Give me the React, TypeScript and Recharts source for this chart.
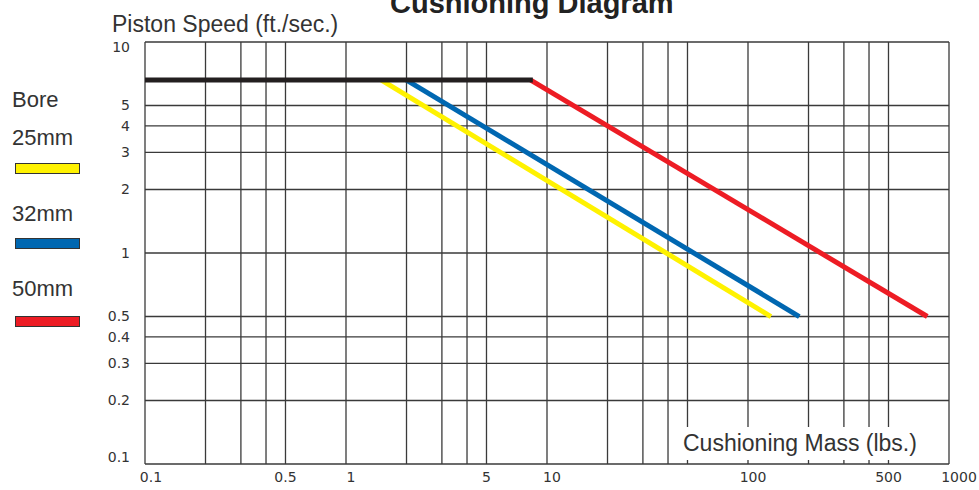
import React from "react";
import { ComposedChart, Line, XAxis, YAxis, ReferenceLine } from "recharts";

// ---- data ----
const xTicks = [0.1, 0.5, 1, 5, 10, 100, 500, 1000];
const yTicks = [0.1, 0.2, 0.3, 0.4, 0.5, 1, 2, 3, 4, 5, 10];
const xGrid = [0.1, 0.2, 0.3, 0.4, 0.5, 1, 2, 3, 4, 5, 10, 20, 30, 40, 50, 100, 200, 300, 400, 500, 1000];
const yGrid = [0.1, 0.2, 0.3, 0.4, 0.5, 1, 2, 3, 4, 5, 10];

const maxSpeed = [
  { x: 0.1, y: 6.6 },
  { x: 8.5, y: 6.6 },
];
const bore25 = [
  { x: 1.5, y: 6.6 },
  { x: 130, y: 0.5 },
];
const bore32 = [
  { x: 2, y: 6.6 },
  { x: 180, y: 0.5 },
];
const bore50 = [
  { x: 8.3, y: 6.6 },
  { x: 780, y: 0.5 },
];

const legendItems = [
  { label: "25mm", color: "#FFF200" },
  { label: "32mm", color: "#0067B1" },
  { label: "50mm", color: "#ED1C24" },
];

const GRID = "#3a3a3a";
const TXT = "#333";

const YTick = (props: any) => {
  const { x, y, payload } = props;
  const v = payload.value;
  const adj = v === 10 ? 5 : v === 0.1 ? -7 : 0;
  return (
    <text x={x} y={y + adj} dy="0.355em" textAnchor="end" fontFamily="DejaVu Sans" fontSize={14} fill={TXT}>
      {String(v)}
    </text>
  );
};

const XTick = (props: any) => {
  const { x, y, payload } = props;
  const v = payload.value;
  const adj = v === 0.1 ? 6 : v === 1000 ? 10 : v === 1 || v === 10 || v === 100 ? 5 : 0;
  return (
    <text x={x + adj} y={y} dy="0.71em" textAnchor="middle" fontFamily="DejaVu Sans" fontSize={14} fill={TXT}>
      {String(v)}
    </text>
  );
};

const legendLabelY = [145, 221, 296];
const legendRectY = [163, 238, 316];

export default function App() {
  return (
    <div style={{ position: "absolute", left: 0, top: 0, width: 979, height: 490, background: "#fff" }}>
      <ComposedChart
        width={979}
        height={490}
        margin={{ top: 42, right: 30, bottom: 0, left: 85 }}
      >
        <XAxis
          dataKey="x"
          type="number"
          scale="log"
          domain={[0.1, 1000]}
          ticks={xTicks}
          allowDataOverflow
          axisLine={false}
          tickLine={false}
          height={26}
          tick={<XTick />}
          interval={0}
        />
        <YAxis
          dataKey="y"
          type="number"
          scale="log"
          domain={[0.1, 10]}
          ticks={yTicks}
          allowDataOverflow
          axisLine={false}
          tickLine={false}
          width={60}
          tickMargin={9}
          tick={<YTick />}
          interval={0}
        />
        {xGrid.map((v) => (
          <ReferenceLine key={"x" + v} x={v} stroke={GRID} strokeWidth={1.3} ifOverflow="visible" />
        ))}
        {yGrid.map((v) => (
          <ReferenceLine key={"y" + v} y={v} stroke={GRID} strokeWidth={1.3} ifOverflow="visible" />
        ))}
        <Line data={bore25} dataKey="y" stroke="#FFF200" strokeWidth={5} dot={false} isAnimationActive={false} type="linear" />
        <Line data={bore32} dataKey="y" stroke="#0067B1" strokeWidth={5} dot={false} isAnimationActive={false} type="linear" />
        <Line data={bore50} dataKey="y" stroke="#ED1C24" strokeWidth={5} dot={false} isAnimationActive={false} type="linear" />
        <Line data={maxSpeed} dataKey="y" stroke="#231F20" strokeWidth={5} dot={false} isAnimationActive={false} type="linear" />
      </ComposedChart>
      <svg width={979} height={490} style={{ position: "absolute", left: 0, top: 0, pointerEvents: "none" }}>
        <text x={390} y={13} fontFamily="Liberation Sans, Arial, sans-serif" fontWeight="bold" fontSize={29} fill="#222">
          Cushioning Diagram
        </text>
        <text x={112} y={32} fontFamily="Liberation Sans, Arial, sans-serif" fontSize={23} fill={TXT}>
          Piston Speed (ft./sec.)
        </text>
        <rect x={680} y={427} width={250} height={33} fill="#fff" />
        <text x={683} y={451} fontFamily="Liberation Sans, Arial, sans-serif" fontSize={23} fill={TXT}>
          Cushioning Mass (lbs.)
        </text>
        <text x={12} y={107} fontFamily="Liberation Sans, Arial, sans-serif" fontSize={22} fill={TXT}>
          Bore
        </text>
        {legendItems.map((it, i) => (
          <g key={it.label}>
            <text x={12} y={legendLabelY[i]} fontFamily="Liberation Sans, Arial, sans-serif" fontSize={22} fill={TXT}>
              {it.label}
            </text>
            <rect x={15.5} y={legendRectY[i] + 0.5} width={64} height={10} fill={it.color} stroke="#333" strokeWidth={1} />
          </g>
        ))}
      </svg>
    </div>
  );
}
